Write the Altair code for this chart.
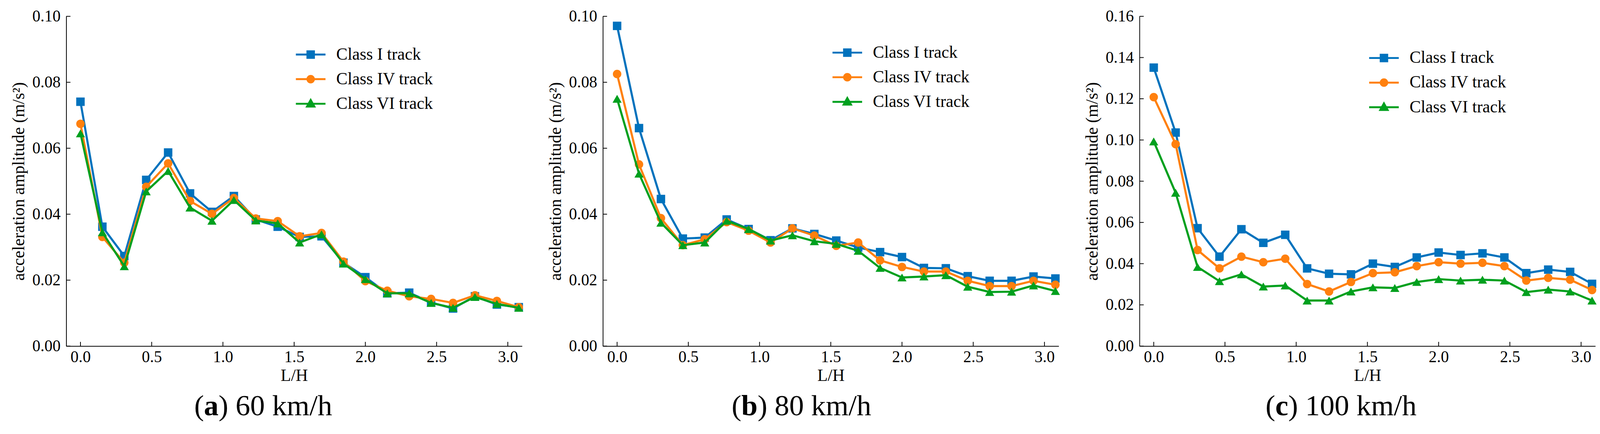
import altair as alt
import pandas as pd

FONT = "Liberation Serif"

LH = [round(i * 2 / 13, 4) for i in range(21)]
series_names = ["Class I track", "Class IV track", "Class VI track"]
colors = ["#0072BD", "#FF800E", "#00A01E"]
shapes = ["square", "circle", "triangle-up"]

x_ticks = [0.0, 0.5, 1.0, 1.5, 2.0, 2.5, 3.0]
y_ticks_ab = [0.00, 0.02, 0.04, 0.06, 0.08, 0.10]
y_ticks_c = [0.00, 0.02, 0.04, 0.06, 0.08, 0.10, 0.12, 0.14, 0.16]

# (a) 60 km/h
v60_c1 = [0.0741, 0.0362, 0.0273, 0.0504, 0.0587, 0.0463, 0.0407, 0.0455, 0.0384, 0.0362, 0.0331,
          0.0333, 0.0253, 0.0209, 0.0160, 0.0162, 0.0132, 0.0114, 0.0151, 0.0126, 0.0118]
v60_c4 = [0.0674, 0.0331, 0.0253, 0.0483, 0.0554, 0.0440, 0.0401, 0.0449, 0.0387, 0.0379, 0.0333,
          0.0343, 0.0256, 0.0197, 0.0168, 0.0151, 0.0143, 0.0131, 0.0154, 0.0137, 0.0118]
v60_c6 = [0.0645, 0.0345, 0.0242, 0.0469, 0.0531, 0.0420, 0.0380, 0.0443, 0.0381, 0.0372, 0.0314,
          0.0339, 0.0250, 0.0203, 0.0160, 0.0160, 0.0131, 0.0116, 0.0149, 0.0128, 0.0116]
# (b) 80 km/h
v80_c1 = [0.0971, 0.0661, 0.0446, 0.0326, 0.0329, 0.0384, 0.0355, 0.0321, 0.0357, 0.0340, 0.0320,
          0.0299, 0.0285, 0.0270, 0.0237, 0.0236, 0.0212, 0.0198, 0.0198, 0.0211, 0.0205]
v80_c4 = [0.0825, 0.0551, 0.0388, 0.0306, 0.0324, 0.0376, 0.0350, 0.0314, 0.0357, 0.0335, 0.0304,
          0.0314, 0.0260, 0.0240, 0.0226, 0.0226, 0.0198, 0.0182, 0.0182, 0.0198, 0.0186]
v80_c6 = [0.0750, 0.0523, 0.0374, 0.0306, 0.0314, 0.0380, 0.0355, 0.0320, 0.0336, 0.0318, 0.0310,
          0.0289, 0.0237, 0.0208, 0.0211, 0.0215, 0.0180, 0.0164, 0.0165, 0.0184, 0.0167]
# (c) 100 km/h
v100_c1 = [0.1351, 0.1036, 0.0572, 0.0434, 0.0567, 0.0501, 0.0540, 0.0377, 0.0351, 0.0348, 0.0400,
           0.0384, 0.0430, 0.0454, 0.0442, 0.0450, 0.0430, 0.0354, 0.0371, 0.0360, 0.0302]
v100_c4 = [0.1208, 0.0980, 0.0466, 0.0377, 0.0434, 0.0407, 0.0424, 0.0301, 0.0265, 0.0311, 0.0354,
           0.0358, 0.0388, 0.0407, 0.0400, 0.0404, 0.0388, 0.0318, 0.0331, 0.0322, 0.0272]
v100_c6 = [0.0993, 0.0744, 0.0384, 0.0315, 0.0348, 0.0289, 0.0294, 0.0221, 0.0221, 0.0265, 0.0285,
           0.0282, 0.0311, 0.0325, 0.0318, 0.0322, 0.0318, 0.0262, 0.0274, 0.0265, 0.0221]

W = 1185
H = 858

legend_paths = [
    "M-1.925,0H1.925M-0.425,-0.425H0.425V0.425H-0.425Z",
    "M-1.925,0H1.925M0.425,0A0.425,0.425,0,1,1,-0.425,0A0.425,0.425,0,1,1,0.425,0Z",
    "M-1.925,0H1.925M0,-0.5L0.48,0.36H-0.48Z",
]


def panel(vals, ymax, yticks, letter, rest, xa, leg_y):
    rows = []
    for name, v in zip(series_names, vals):
        for xv, yv in zip(LH, v):
            rows.append({"x": xv, "y": yv, "series": name})
    df = pd.DataFrame(rows)
    base = alt.Chart(df)

    xenc = alt.X("x:Q", scale=alt.Scale(domain=[-0.1, 3.1], nice=False, zero=False),
                 axis=alt.Axis(values=x_ticks, format=".1f", title="L/H",
                               labelPadding=8, titlePadding=6))
    yenc = alt.Y("y:Q", scale=alt.Scale(domain=[0, ymax], nice=False, zero=True),
                 axis=alt.Axis(values=yticks, format=".2f",
                               title="acceleration amplitude (m/s²)",
                               labelPadding=15, titlePadding=12))

    layers = []
    for name, col, sh in zip(series_names, colors, shapes):
        sub = base.transform_filter(alt.datum.series == name)
        layers.append(sub.mark_line(color=col, strokeWidth=5.5).encode(x=xenc, y=yenc))
        size = 560 if sh == "triangle-up" else 484
        layers.append(sub.mark_point(filled=True, opacity=1, shape=sh, size=size, color=col)
                      .encode(x=xenc, y=yenc))

    leg_def = alt.Legend(orient="none", legendX=613, legendY=leg_y, title=None,
                         labelFont=FONT, labelFontSize=44, labelColor="black",
                         symbolSize=1600, symbolStrokeWidth=5, symbolOpacity=1,
                         labelOffset=44, rowPadding=19, padding=0, labelLimit=0)
    legend_layer = base.transform_filter("false").mark_point(filled=True, opacity=1).encode(
        x=xenc, y=yenc,
        fill=alt.Fill("series:N", scale=alt.Scale(domain=series_names, range=colors), legend=leg_def),
        stroke=alt.Stroke("series:N", scale=alt.Scale(domain=series_names, range=colors), legend=leg_def),
        shape=alt.Shape("series:N", scale=alt.Scale(domain=series_names, range=legend_paths), legend=leg_def),
    )
    layers.append(legend_layer)

    xt = alt.Chart(pd.DataFrame({"x": x_ticks})).mark_rule(color="black", strokeWidth=2).encode(
        x=xenc, y=alt.value(H), y2=alt.value(H - 11))
    yt = alt.Chart(pd.DataFrame({"y": yticks})).mark_rule(color="black", strokeWidth=2).encode(
        y=yenc, x=alt.value(0), x2=alt.value(11))
    layers += [xt, yt]

    fs = 76
    letter_w = {"a": 0.5, "b": 0.556, "c": 0.444}[letter] * fs

    def txt(t, xv, align, bold):
        return alt.Chart(pd.DataFrame({"t": [t]})).mark_text(
            align=align, baseline="alphabetic", font=FONT, fontSize=fs,
            fontWeight="bold" if bold else "normal", color="black"
        ).encode(text="t:N", x=alt.value(xv), y=alt.value(H + 180))

    layers += [txt("(", xa, "right", False), txt(letter, xa, "left", True),
               txt(rest, xa + letter_w, "left", False)]

    return alt.layer(*layers).properties(width=W, height=H)


p1 = panel([v60_c1, v60_c4, v60_c6], 0.10, y_ticks_ab, "a", ") 60 km/h", 358, 77)
p2 = panel([v80_c1, v80_c4, v80_c6], 0.10, y_ticks_ab, "b", ") 80 km/h", 360, 72)
p3 = panel([v100_c1, v100_c4, v100_c6], 0.16, y_ticks_c, "c", ") 100 km/h", 353, 86)

chart = alt.hconcat(p1, p2, p3, spacing=61).resolve_scale(
    fill="independent", stroke="independent", shape="independent", y="independent"
).resolve_legend(
    fill="independent", stroke="independent", shape="independent"
).properties(
    padding={"left": 19, "top": 5, "right": 0, "bottom": 0}
).configure_view(stroke=None).configure_axis(
    grid=False, ticks=False, tickSize=0, domainColor="black", domainWidth=2,
    labelFont=FONT, labelFontSize=42, labelColor="black", labelFlush=False, labelOverlap=False,
    titleFont=FONT, titleFontSize=44, titleFontWeight="normal", titleColor="black",
).configure_legend(labelFont=FONT)

chart.save("out.html", embed_options={"renderer": "svg", "actions": False})
